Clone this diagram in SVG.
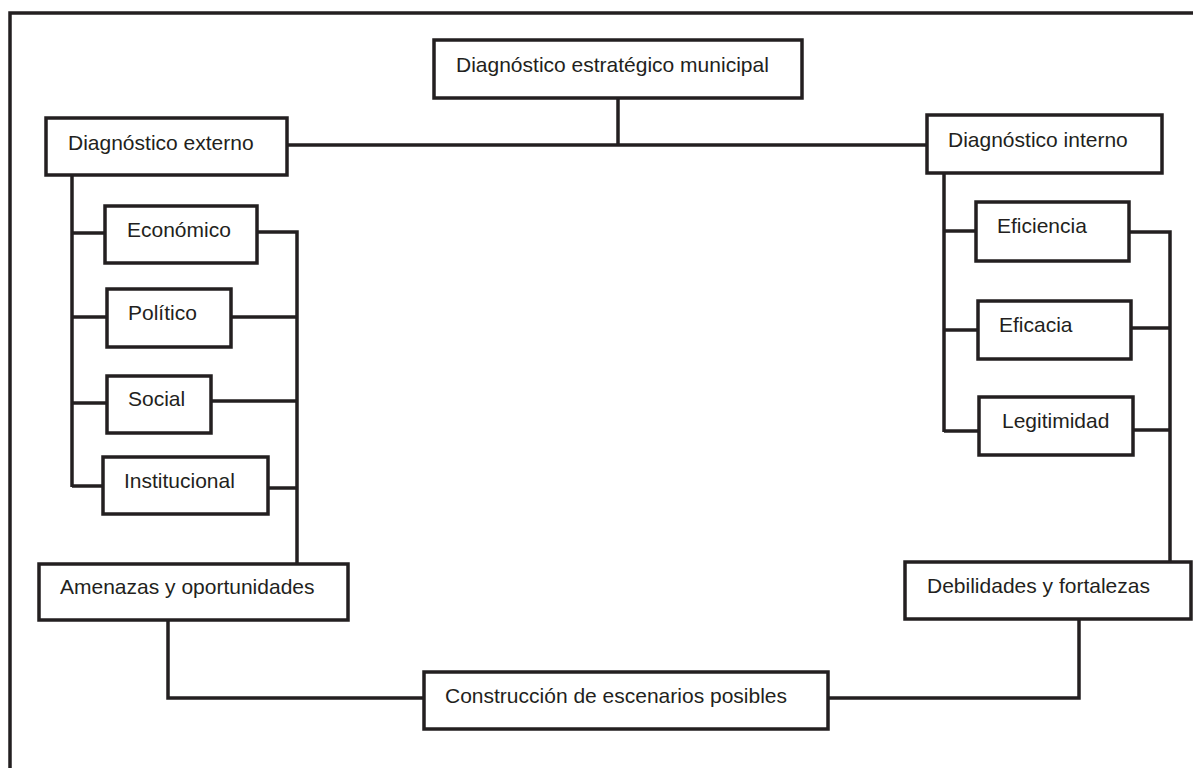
<svg xmlns="http://www.w3.org/2000/svg" width="1193" height="768" viewBox="0 0 1193 768">
<style>
.box{fill:#fff;stroke:#231f20;stroke-width:3.5}
.ln{fill:none;stroke:#231f20;stroke-width:3.5;stroke-linecap:butt;stroke-linejoin:miter}
.t{font-family:"Liberation Sans",Arial,sans-serif;font-size:21px;fill:#231f20}
</style>
<rect width="1193" height="768" fill="#fff"/>
<path class="ln" d="M10,768 V13 H1193"/>
<g id="connectors">
<path class="ln" d="M618,98 V145"/>
<path class="ln" d="M287,145 H926"/>
<path class="ln" d="M72,175 V487"/>
<path class="ln" d="M72,233 H104"/>
<path class="ln" d="M72,317 H106"/>
<path class="ln" d="M72,403 H106"/>
<path class="ln" d="M72,486 H102"/>
<path class="ln" d="M257,232 H297 V564"/>
<path class="ln" d="M231,317 H297"/>
<path class="ln" d="M211,401 H297"/>
<path class="ln" d="M268,488 H297"/>
<path class="ln" d="M944,173 V432"/>
<path class="ln" d="M944,231 H975"/>
<path class="ln" d="M944,330 H977"/>
<path class="ln" d="M944,431 H978"/>
<path class="ln" d="M1129,232 H1170 V562"/>
<path class="ln" d="M1131,328 H1170"/>
<path class="ln" d="M1133,430 H1170"/>
<path class="ln" d="M168,620 V698 H423"/>
<path class="ln" d="M828,698 H1079 V619"/>
</g>
<g id="n-municipal"><rect class="box" x="434" y="40" width="368" height="58"/><text class="t" x="456" y="72">Diagnóstico estratégico municipal</text></g>
<g id="n-externo"><rect class="box" x="46" y="118" width="241" height="57"/><text class="t" x="68" y="150">Diagnóstico externo</text></g>
<g id="n-interno"><rect class="box" x="927" y="115" width="235" height="58"/><text class="t" x="948" y="147">Diagnóstico interno</text></g>
<g id="n-economico"><rect class="box" x="105" y="206" width="152" height="57"/><text class="t" x="127" y="237">Económico</text></g>
<g id="n-politico"><rect class="box" x="107" y="289" width="124" height="58"/><text class="t" x="128" y="320">Político</text></g>
<g id="n-social"><rect class="box" x="107" y="376" width="104" height="57"/><text class="t" x="128" y="406">Social</text></g>
<g id="n-institucional"><rect class="box" x="103" y="457" width="165" height="57"/><text class="t" x="124" y="488">Institucional</text></g>
<g id="n-eficiencia"><rect class="box" x="976" y="202" width="153" height="59"/><text class="t" x="997" y="233">Eficiencia</text></g>
<g id="n-eficacia"><rect class="box" x="978" y="301" width="153" height="58"/><text class="t" x="999" y="332">Eficacia</text></g>
<g id="n-legitimidad"><rect class="box" x="979" y="397" width="154" height="58"/><text class="t" x="1002" y="428">Legitimidad</text></g>
<g id="n-amenazas"><rect class="box" x="39" y="564" width="309" height="56"/><text class="t" x="60" y="594">Amenazas y oportunidades</text></g>
<g id="n-debilidades"><rect class="box" x="905" y="562" width="286" height="57"/><text class="t" x="927" y="593">Debilidades y fortalezas</text></g>
<g id="n-construccion"><rect class="box" x="424" y="672" width="404" height="57"/><text class="t" x="445" y="703">Construcción de escenarios posibles</text></g>
</svg>
